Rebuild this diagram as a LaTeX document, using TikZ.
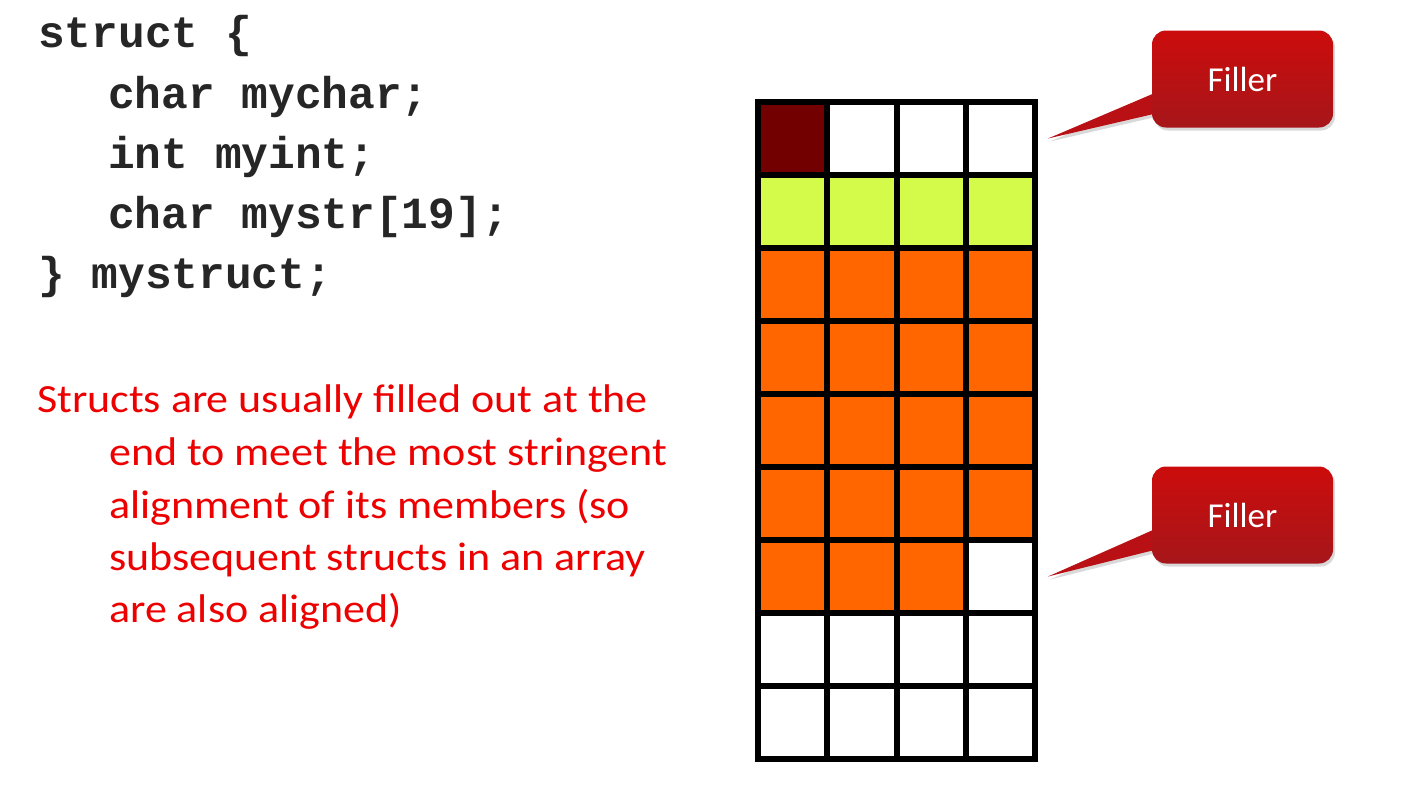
\documentclass[tikz,border=0pt]{standalone}
\usepackage{fontspec}
\setmainfont{Carlito}
\setmonofont{Liberation Mono}
\newfontfamily\notefont[FakeStretch=1.1]{Carlito}
\usetikzlibrary{positioning,shadows}

\definecolor{codegray}{RGB}{38,38,38}
\definecolor{notered}{RGB}{236,0,0}
\definecolor{charred}{RGB}{114,0,0}
\definecolor{intgreen}{RGB}{212,250,74}
\definecolor{strorange}{RGB}{255,102,0}
\definecolor{boxtop}{RGB}{204,12,12}
\definecolor{boxbot}{RGB}{166,22,26}
\definecolor{boxmid}{RGB}{184,16,20}

\tikzset{
    code/.style={anchor=base west, inner sep=0, text=codegray,
        font=\fontsize{44.5}{52}\selectfont\ttfamily\bfseries},
    note/.style={anchor=base west, inner sep=0, text=notered,
        font=\fontsize{40}{48}\selectfont\notefont},
    cell/.style={draw, line width=6pt, minimum width=69.25pt,
        minimum height=73pt, inner sep=0},
    boxshadow/.style={drop shadow={opacity=0.3, shadow xshift=2pt, shadow yshift=-3pt}},
    filler/.style={rounded corners=14pt, minimum width=181pt, minimum height=97pt,
        top color=boxtop, bottom color=boxbot, text=white,
        font=\fontsize{35}{40}\selectfont, boxshadow},
    pointer/.style={fill=boxmid, boxshadow}
}

\begin{document}
\begin{tikzpicture}[x=1pt, y=-1pt]
    \useasboundingbox (0,0) rectangle (1420,807);

    % the struct declaration
    \node [code] (l1) at (38,47) {struct \{};
    \node [code] (l2) at (108,108) {char mychar;};
    \node [code] (l3) at (108,168) {int myint;};
    \node [code] (l4) at (108,228) {char mystr[19];};
    \node [code] (l5) at (38,288) {\} mystruct;};

    % explanation
    \node [note] (n1) at (37,412) {Structs are usually filled out at the};
    \node [note] (n2) at (109,465) {end to meet the most stringent};
    \node [note] (n3) at (109,518) {alignment of its members (so};
    \node [note] (n4) at (109,570) {subsequent structs in an array};
    \node [note] (n5) at (109,622) {are also aligned)};

    % memory layout, 4 bytes per row
    \foreach \r/\fa/\fb/\fc/\fd in {1/charred/white/white/white,
            2/intgreen/intgreen/intgreen/intgreen,
            3/strorange/strorange/strorange/strorange,
            4/strorange/strorange/strorange/strorange,
            5/strorange/strorange/strorange/strorange,
            6/strorange/strorange/strorange/strorange,
            7/strorange/strorange/strorange/white,
            8/white/white/white/white,
            9/white/white/white/white}
        \foreach \k/\f in {1/\fa, 2/\fb, 3/\fc, 4/\fd}
            \node [cell, fill=\f] (c-\r-\k) at ({758+(\k-0.5)*69.25}, {102+(\r-0.5)*73}) {};

    % callouts
    \coordinate (tip1) at ([xshift=10pt]c-1-4.east);
    \coordinate (tip2) at ([xshift=10pt]c-7-4.east);
    \coordinate (f1c) at (1242.5,79);
    \coordinate (f2c) at (1242.5,515);
    \fill [pointer] (tip1) -- ([shift={(-76,9)}]f1c) -- ([shift={(-76,32)}]f1c) -- cycle;
    \fill [pointer] (tip2) -- ([shift={(-76,9)}]f2c) -- ([shift={(-76,32)}]f2c) -- cycle;
    \node [filler] (f1) at (f1c) {Filler};
    \node [filler] (f2) at (f2c) {Filler};
\end{tikzpicture}
\end{document}
